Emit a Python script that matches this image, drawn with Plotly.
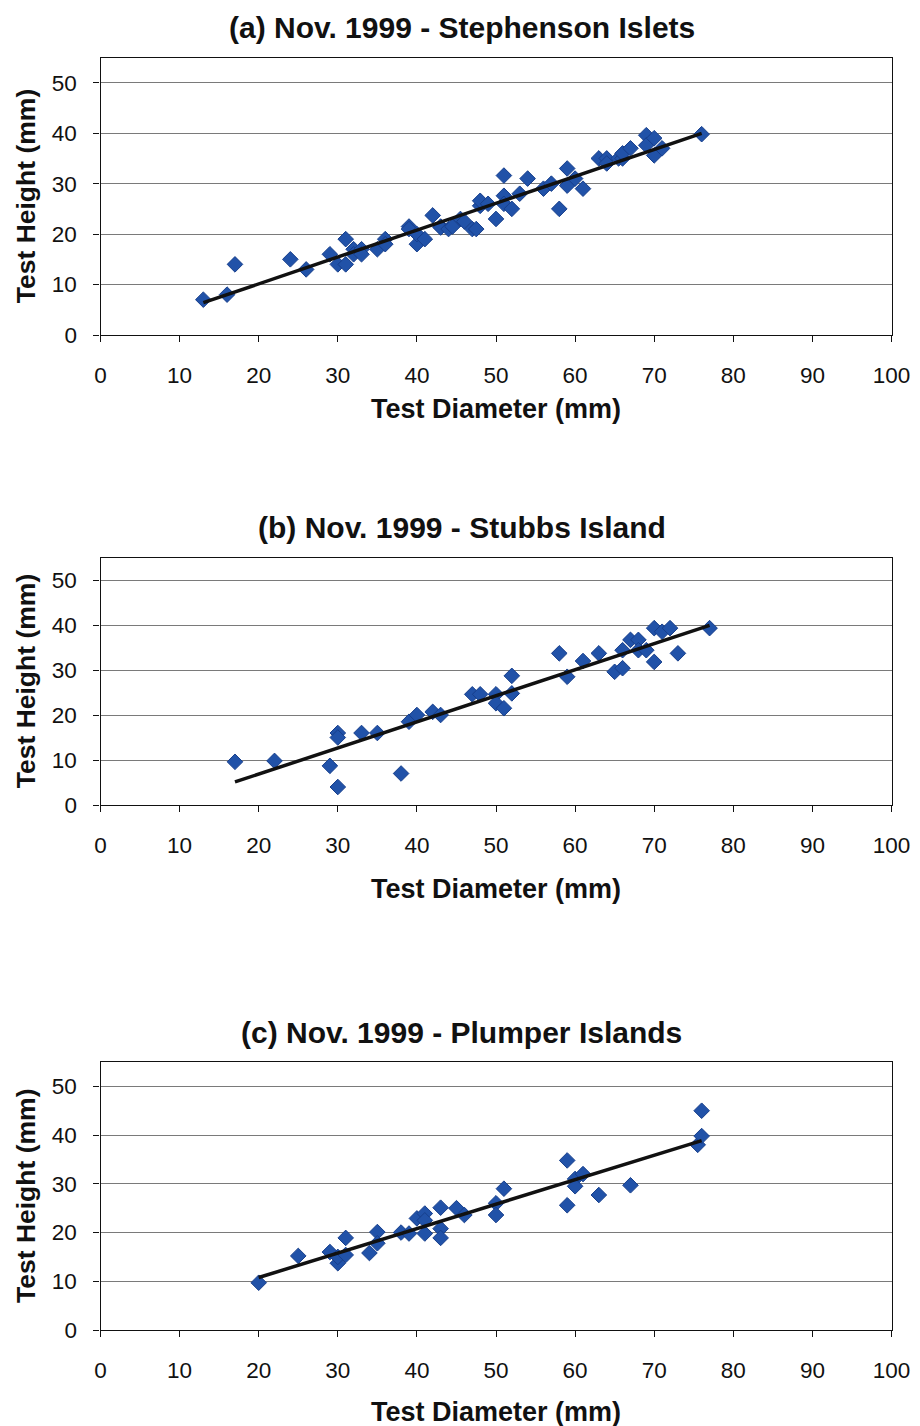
import numpy as np
import plotly.graph_objects as go

# Test diameter / test height (mm) for each site
dia_a = [13, 16, 17, 24, 26, 29, 30, 31, 31, 32, 32, 33, 33, 35, 36, 36, 39, 39, 40, 40,
         41, 42, 43, 43, 44, 44.5, 45.5, 46, 47, 47.5, 48, 48, 49, 50, 51, 51, 51, 52, 53,
         54, 56, 57, 58, 59, 59, 60, 61, 63, 64, 64, 65.5, 66, 66, 67, 69, 69, 70, 70, 71, 76]
ht_a = [7, 8, 14, 15, 13, 16, 14, 14, 19, 17, 16, 17, 16, 17, 19, 18, 21.5, 21, 18, 20,
        19, 23.7, 21.5, 21.3, 21, 21.5, 23, 22.5, 21, 21, 25.6, 26.6, 26, 23, 31.6, 27.6, 26, 25, 28,
        31, 29, 30, 25, 33, 29.6, 31, 29, 35, 35, 34, 35, 35, 36, 37, 39.6, 37.6, 39, 35.6, 37, 39.8]

dia_b = [17, 22, 29, 30, 30, 30, 33, 35, 38, 39, 40, 42, 43, 47, 48, 50, 50, 51, 52, 52,
         58, 59, 61, 63, 65, 66, 66, 67, 68, 68, 69, 70, 70, 71, 72, 73, 77]
ht_b = [9.6, 9.8, 8.7, 16, 15, 4, 16, 16, 7, 18.5, 20, 20.7, 20, 24.6, 24.6, 24.6, 22.6, 21.5, 28.7, 24.8,
        33.7, 28.5, 32, 33.7, 29.6, 30.4, 34.4, 36.7, 36.7, 34.4, 34.4, 31.8, 39.3, 38.5, 39.3, 33.7, 39.3]

dia_c = [20, 25, 29, 30, 30, 31, 31, 34, 35, 35, 38, 39, 40, 41, 41, 41, 43, 43, 43, 45,
         46, 50, 50, 51, 59, 59, 60, 60, 61, 63, 67, 75.5, 76, 76]
ht_c = [9.7, 15.2, 16, 13.7, 15, 15.4, 18.9, 15.8, 20.1, 17.8, 20, 19.8, 22.9, 23.9, 19.8, 22.5, 25.1, 20.8, 18.9, 25,
        23.6, 26, 23.6, 29, 34.8, 25.6, 31, 29.5, 32, 27.7, 29.7, 38, 39.8, 45]

titles = ["(a) Nov. 1999 - Stephenson Islets",
          "(b) Nov. 1999 - Stubbs Island",
          "(c) Nov. 1999 - Plumper Islands"]
x_ticks = list(range(0, 101, 10))
y_ticks = list(range(0, 51, 10))

W, H = 920, 1426
FONT = "Liberation Sans, Arial, Helvetica, sans-serif"
MARKER = "#2152a8"

# pixel layout of each plot area: (top, bottom), plus title/axis-title rows
panels = [
    dict(top=57.5, bottom=335, title_y=27, xtitle_y=409),
    dict(top=557.5, bottom=805, title_y=527, xtitle_y=889),
    dict(top=1062, bottom=1330, title_y=1032, xtitle_y=1412),
]
LEFT, RIGHT = 100.5, 891.5

def py(p):
    return 1 - p / H

def px(p):
    return p / W

fig = go.Figure()
series = [(dia_a, ht_a), (dia_b, ht_b), (dia_c, ht_c)]
annotations = []

for i, ((xs, ys), pn, ttl) in enumerate(zip(series, panels, titles), start=1):
    xa = "x" if i == 1 else f"x{i}"
    ya = "y" if i == 1 else f"y{i}"
    fig.add_trace(go.Scatter(
        x=xs, y=ys, mode="markers", xaxis=xa, yaxis=ya, showlegend=False,
        marker=dict(symbol="diamond", size=12, color=MARKER,
                    line=dict(color="#173f8c", width=1)),
    ))
    # linear trendline over the measured diameter range
    k, b = np.polyfit(np.array(xs, float), np.array(ys, float), 1)
    tx = np.array([min(xs), max(xs)], float)
    fig.add_trace(go.Scatter(
        x=tx, y=k * tx + b, mode="lines", xaxis=xa, yaxis=ya, showlegend=False,
        line=dict(color="#111111", width=3.5),
    ))

    axis_common = dict(showline=True, linecolor="#111111", linewidth=1.2, mirror=True,
                       ticks="outside", ticklen=6, tickcolor="#111111", tickwidth=1,
                       tickfont=dict(family=FONT, size=22.5, color="#111111"),
                       zeroline=False, automargin=False)
    fig.layout[f"xaxis{'' if i == 1 else i}"] = dict(
        domain=[px(LEFT), px(RIGHT)], anchor=ya, range=[0, 100],
        tickvals=x_ticks, showgrid=False, ticklabelstandoff=14, **axis_common)
    fig.layout[f"yaxis{'' if i == 1 else i}"] = dict(
        domain=[py(pn["bottom"]), py(pn["top"])], anchor=xa, range=[0, 55],
        tickvals=y_ticks, showgrid=True, gridcolor="#7a7a7a", gridwidth=1,
        ticklabelstandoff=12, **axis_common)

    annotations.append(dict(
        text=f"<b>{ttl}</b>", x=px(461.5), y=py(pn["title_y"]), xref="paper", yref="paper",
        xanchor="center", yanchor="middle", showarrow=False,
        font=dict(family=FONT, size=30, color="#111111")))
    annotations.append(dict(
        text="<b>Test Diameter (mm)</b>", x=px((LEFT + RIGHT) / 2), y=py(pn["xtitle_y"]),
        xref="paper", yref="paper", xanchor="center", yanchor="middle", showarrow=False,
        font=dict(family=FONT, size=27, color="#111111")))
    annotations.append(dict(
        text="<b>Test Height (mm)</b>", x=px(26), y=py((pn["top"] + pn["bottom"]) / 2),
        xref="paper", yref="paper", xanchor="center", yanchor="middle", showarrow=False,
        textangle=-90, font=dict(family=FONT, size=26.5, color="#111111")))

fig.update_layout(
    width=W, height=H,
    margin=dict(l=0, r=0, t=0, b=0, autoexpand=False),
    paper_bgcolor="white", plot_bgcolor="white",
    annotations=annotations,
)

fig.write_html("out.html")
